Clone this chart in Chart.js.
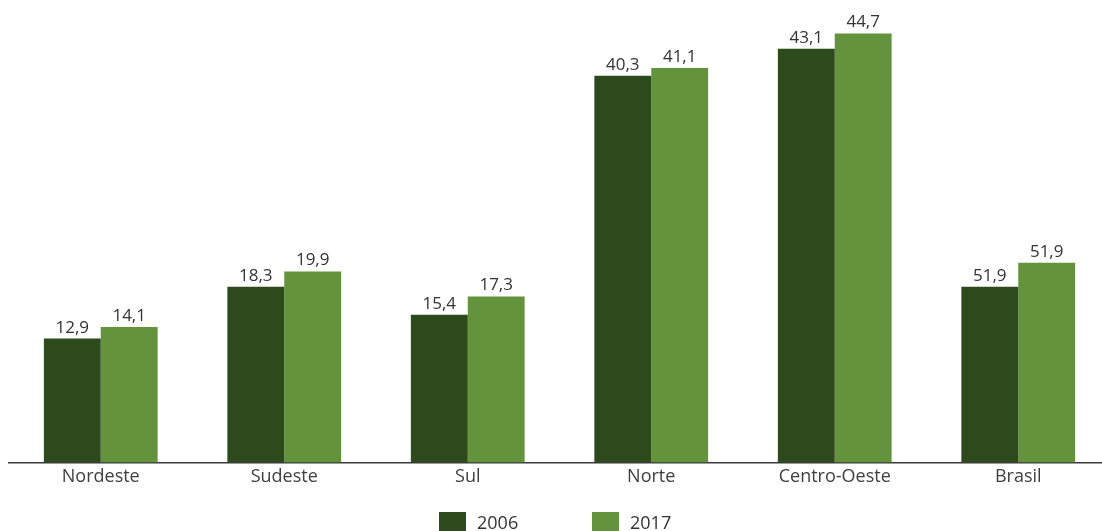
<!DOCTYPE html>
<html>
<head>
<meta charset="utf-8">
<script src="https://cdn.jsdelivr.net/npm/chart.js@4"></script>
<style>
  html, body { margin: 0; padding: 0; background: #fff; overflow: hidden; }
  #wrap { position: relative; width: 1110px; height: 531px; }
  #legend { position: absolute; left: 0; top: 512px; width: 1110px; height: 22px; font: 18px "Open Sans", "Noto Sans", sans-serif; color: #333; }
  #legend .item { position: absolute; top: 0; display: flex; align-items: center; height: 20px; }
  #legend .box { width: 27px; height: 20px; margin-right: 11px; }
</style>
</head>
<body>
<div id="wrap"><canvas id="chart"></canvas><div id="legend"></div></div>
<script>
const regions = ['Nordeste', 'Sudeste', 'Sul', 'Norte', 'Centro-Oeste', 'Brasil'];
const values2006 = [12.9, 18.3, 15.4, 40.3, 43.1, 18.3];
const values2017 = [14.1, 19.9, 17.3, 41.1, 44.7, 20.8];
// the labels printed above the bars (Brasil is labelled 51,9 in the source)
const labels2006 = ['12,9', '18,3', '15,4', '40,3', '43,1', '51,9'];
const labels2017 = ['14,1', '19,9', '17,3', '41,1', '44,7', '51,9'];

const FONT = '"Open Sans", "Noto Sans", sans-serif';

const valueLabels = {
    id: 'valueLabels',
    afterDatasetsDraw(chart) {
        const ctx = chart.ctx;
        const texts = [labels2006, labels2017];
        ctx.save();
        ctx.font = '17px ' + FONT;
        ctx.fillStyle = '#333';
        ctx.textAlign = 'center';
        ctx.textBaseline = 'alphabetic';
        chart.data.datasets.forEach((ds, i) => {
            chart.getDatasetMeta(i).data.forEach((bar, j) => {
                ctx.fillText(texts[i][j], bar.x, bar.y - 6);
            });
        });
        ctx.restore();
    },
};

const chart = new Chart(document.getElementById('chart'), {
    type: 'bar',
    data: {
        labels: regions,
        datasets: [
            { label: '2006', data: values2006, backgroundColor: '#2d4a1d' },
            { label: '2017', data: values2017, backgroundColor: '#63933a' },
        ],
    },
    options: {
        responsive: true,
        maintainAspectRatio: false,
        animation: false,
        layout: { padding: { left: 9, right: 0, top: 21, bottom: 39 } },
        datasets: { bar: { categoryPercentage: 0.62, barPercentage: 1.0 } },
        plugins: {
            legend: { display: false },
            tooltip: { enabled: false },
        },
        scales: {
            x: {
                grid: { display: false, drawTicks: false },
                border: { display: true, color: '#3a3a3a', width: 1.5 },
                ticks: { color: '#404040', font: { family: FONT, size: 18 }, padding: 4 },
            },
            y: {
                display: false,
                min: 0,
                max: 46,
            },
        },
    },
    plugins: [valueLabels],
});

// legend built from the datasets
const legendEl = document.getElementById('legend');
const legendX = [439, 592];
chart.data.datasets.forEach((ds, i) => {
    const item = document.createElement('div');
    item.className = 'item';
    item.style.left = legendX[i] + 'px';
    item.innerHTML = '<span class="box" style="background:' + ds.backgroundColor + '"></span>' + ds.label;
    legendEl.appendChild(item);
});
</script>
</body>
</html>
